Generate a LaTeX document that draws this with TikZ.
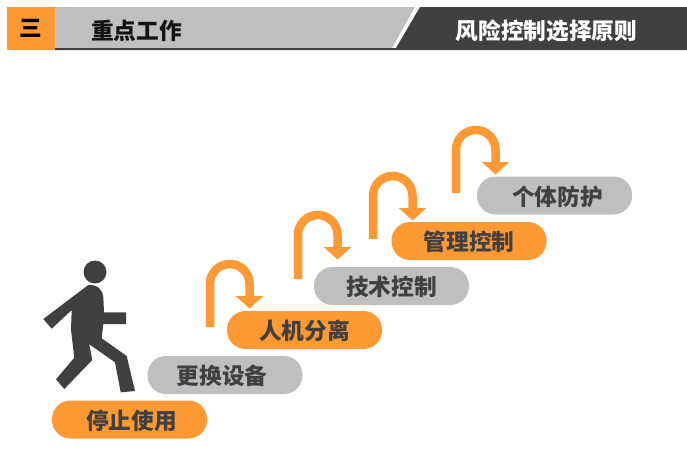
\documentclass[tikz,border=0pt]{standalone}
\usepackage{fontspec}
\usetikzlibrary{arrows.meta}
\newfontfamily\cjkb{Noto Sans CJK SC}
\definecolor{orangeA}{HTML}{FF9933}
\definecolor{grayA}{HTML}{BFBFBF}
\definecolor{darkA}{HTML}{404040}
\tikzset{
  pill/.style={rounded corners=18.5pt,minimum width=155pt,minimum height=38pt,inner sep=0pt,
    text height=20pt,text depth=1pt,
    font=\cjkb\bfseries\fontsize{22.7}{22.7}\selectfont,text=darkA},
  orangepill/.style={pill,fill=orangeA},
  graypill/.style={pill,fill=grayA},
  curve/.style={draw=orangeA,line width=8.5pt,-{Triangle[width=27pt,length=12.5pt,fill=orangeA]}},
  headtext/.style={font=\cjkb\bfseries\fontsize{22.7}{22.7}\selectfont,inner sep=0pt}
}
\begin{document}
\begin{tikzpicture}[x=1pt,y=-1pt]
\useasboundingbox (0,0) rectangle (687,463);
% header
\fill[grayA] (55,7) -- (415,7) -- (392,48) -- (55,48) -- cycle;
\fill[darkA] (420,7) -- (687,7) -- (687,50) -- (55,50) -- (55,48) -- (396,48) -- cycle;
\fill[orangeA] (7,7) rectangle (55,50);
\node[headtext,text=black] (num) at (31,28.5) {三};
\node[headtext,text=darkA!30!black] (left) at (136.5,31) {重点工作};
\node[headtext,text=white] (right) at (546.5,31) {风险控制选择原则};
% steps
\node[orangepill] (s1) at (129.5,419.5) {\hspace{4pt}停止使用};
\node[graypill]   (s2) at (225,375)   {\hspace{-6pt}更换设备};
\node[orangepill] (s3) at (304.5,330) {人机分离};
\node[graypill]   (s4) at (391.5,286) {技术控制};
\node[orangepill] (s5) at (469,241)   {管理控制};
\node[graypill]   (s6) at (554.5,195.5) {\hspace{6pt}个体防护};
% arrows
\coordinate (a1s) at (210,327);  \coordinate (a1e) at (249.5,308.5);
\coordinate (a2s) at (298,279);  \coordinate (a2e) at (337.5,259.5);
\coordinate (a3s) at (373,239);  \coordinate (a3e) at (412.5,220.5);
\coordinate (a4s) at (456,193);  \coordinate (a4e) at (495.5,174.5);
\foreach \s/\e/\t in {a1s/a1e/283.75,a2s/a2e/234.75,a3s/a3e/195.75,a4s/a4e/149.75}{
  \draw[curve] (\s) -- (\s |- 0,\t) arc[start angle=180,end angle=0,radius=19.75pt] -- (\e);
}
% walking figure
\fill[darkA] (95,272) circle (11.5pt);
\fill[darkA] (88.3,285) .. controls (98,284) and (103,291) .. (103.3,297) -- (104,312.3) -- (126,312.3) -- (126,324) -- (103.3,324) -- (101.7,338.3)
  -- (126.7,356) -- (135,391) -- (120.7,392.3) -- (115,362.3) -- (89.3,344.3) -- (92.3,360) -- (64.3,389) -- (56,379.3) -- (74.3,357.7) -- (71,330) -- (71.7,310) -- (51.7,328.7) -- (43.3,319) -- cycle;
\end{tikzpicture}
\end{document}
